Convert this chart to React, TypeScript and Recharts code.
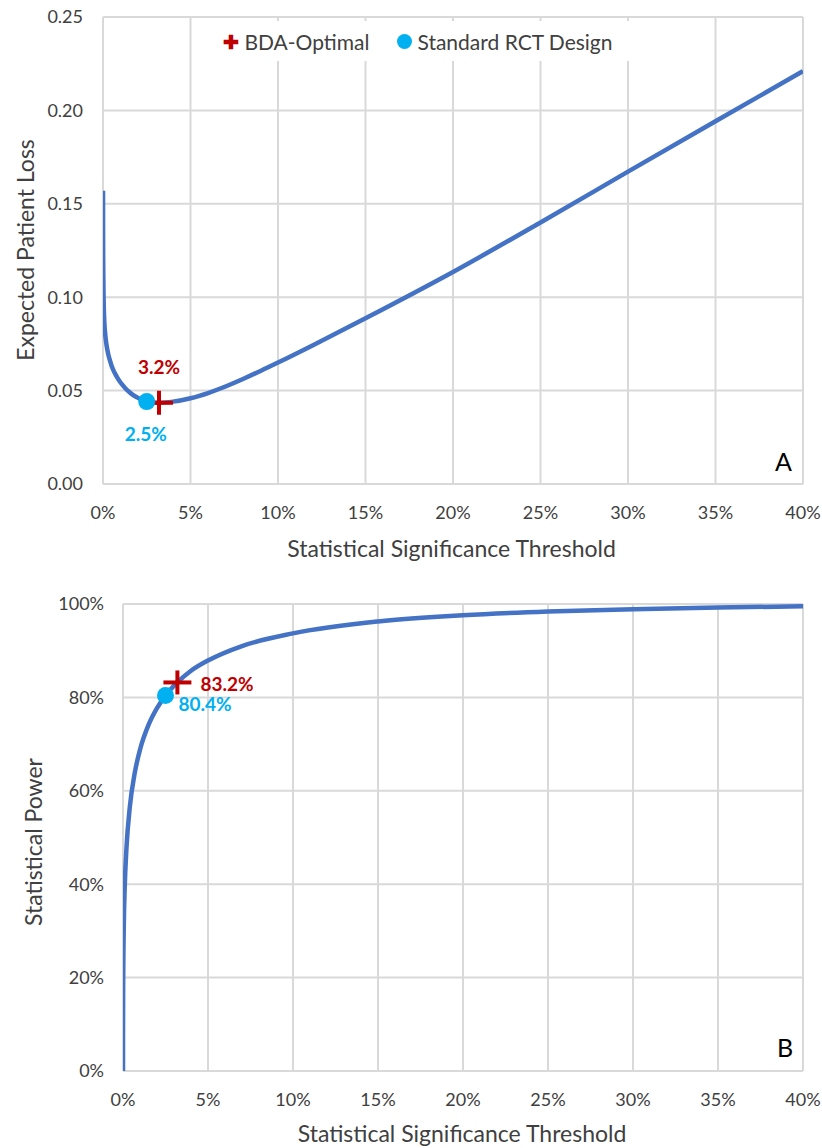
import React from "react";
import { ComposedChart, Line, Scatter, XAxis, YAxis, CartesianGrid } from "recharts";

const xTicks = [0, 0.05, 0.1, 0.15, 0.2, 0.25, 0.3, 0.35, 0.4];
const lossTicks = [0, 0.05, 0.1, 0.15, 0.2, 0.25];
const powerTicks = [0, 0.2, 0.4, 0.6, 0.8, 1.0];

const lossAlpha = [0.00002, 0.00005, 0.0001, 0.0002, 0.0003, 0.0005, 0.0008, 0.0011, 0.0015, 0.002, 0.003, 0.004, 0.005, 0.0065, 0.008, 0.0095, 0.011, 0.013, 0.015, 0.0175, 0.02, 0.0225, 0.025, 0.0285, 0.032, 0.036, 0.04, 0.05, 0.06, 0.07, 0.08, 0.09, 0.1, 0.12, 0.15, 0.2, 0.25, 0.3, 0.35, 0.4];
const lossValues = [0.157, 0.135, 0.122, 0.11, 0.102, 0.093, 0.086, 0.082, 0.078, 0.0745, 0.0695, 0.066, 0.063, 0.0598, 0.0572, 0.055, 0.0532, 0.051, 0.0493, 0.0475, 0.0461, 0.0449, 0.0441, 0.0436, 0.0435, 0.0437, 0.0441, 0.0459, 0.0487, 0.0522, 0.0562, 0.0605, 0.065, 0.0743, 0.0887, 0.1135, 0.14, 0.1672, 0.1942, 0.221];

const powerAlpha = [0, 0.00001, 0.0001, 0.0005, 0.001, 0.002, 0.004, 0.007, 0.01, 0.015, 0.02, 0.025, 0.032, 0.04, 0.05, 0.07, 0.1, 0.15, 0.2, 0.25, 0.3, 0.35, 0.4];
const powerValues = [0, 0.074, 0.183, 0.318, 0.392, 0.475, 0.565, 0.64, 0.688, 0.741, 0.777, 0.804, 0.832, 0.857, 0.879, 0.91, 0.937, 0.9625, 0.976, 0.984, 0.989, 0.9925, 0.995];

const bdaAlpha = 0.032;
const rctAlpha = 0.025;
const bdaLoss = 0.0435;
const rctLoss = 0.0441;
const bdaPower = 0.832;
const rctPower = 0.804;
const bdaLossLabel = "3.2%";
const rctLossLabel = "2.5%";
const bdaPowerLabel = "83.2%";
const rctPowerLabel = "80.4%";

const lossData = lossAlpha.map((x, i) => ({ x, y: lossValues[i] }));
const powerData = powerAlpha.map((x, i) => ({ x, y: powerValues[i] }));

const FONT = "Lato, 'Open Sans', sans-serif";
const RED = "#C00000";
const CYAN = "#00B0F0";
const BLUE = "#4472C4";
const GRID = "#D9D9D9";
const TEXT = "#404040";

const pct = (v: number) => `${Math.round(v * 100)}%`;

const makeCross = (label: string, mode: "top" | "bottom") => (props: any) => {
  const { cx, cy } = props;
  if (cx == null || cy == null) return <g />;
  return (
    <g>
      <line x1={cx} y1={cy - 12} x2={cx} y2={cy + 12} stroke={RED} strokeWidth={4} />
      <line x1={cx - 14} y1={cy} x2={cx + 14} y2={cy} stroke={RED} strokeWidth={4} />
      {mode === "top" ? (
        <text x={cx} y={cy - 36} textAnchor="middle" dominantBaseline="central" fill={RED} fontWeight={700} fontSize={19} fontFamily={FONT}>{label}</text>
      ) : (
        <text x={cx + 23} y={cy + 1} textAnchor="start" dominantBaseline="central" fill={RED} fontWeight={700} fontSize={19} fontFamily={FONT}>{label}</text>
      )}
    </g>
  );
};

const makeDot = (label: string, mode: "top" | "bottom") => (props: any) => {
  const { cx, cy } = props;
  if (cx == null || cy == null) return <g />;
  return (
    <g>
      <circle cx={cx} cy={cy} r={8.5} fill={CYAN} />
      {mode === "top" ? (
        <text x={cx - 1} y={cy + 32} textAnchor="middle" dominantBaseline="central" fill={CYAN} fontWeight={700} fontSize={19} fontFamily={FONT}>{label}</text>
      ) : (
        <text x={cx + 13} y={cy + 8} textAnchor="start" dominantBaseline="central" fill={CYAN} fontWeight={700} fontSize={19} fontFamily={FONT}>{label}</text>
      )}
    </g>
  );
};

const tickStyle = { fill: TEXT, fontSize: 18, fontFamily: FONT };

export default function App() {
  return (
    <div style={{ position: "absolute", left: 0, top: 0, width: 822, height: 1148, background: "#fff", fontFamily: FONT }}>
      {/* Chart A */}
      <div style={{ position: "absolute", left: 0, top: 0 }}>
        <ComposedChart width={822} height={570} margin={{ top: 17, right: 19, left: 0, bottom: 56 }}>
          <CartesianGrid stroke={GRID} strokeWidth={2} />
          <XAxis type="number" dataKey="x" domain={[0, 0.4]} ticks={xTicks} tickFormatter={pct} axisLine={false} tickLine={false} tickMargin={16} height={30} tick={tickStyle} allowDataOverflow />
          <YAxis type="number" dataKey="y" domain={[0, 0.25]} ticks={lossTicks} tickFormatter={(v: number) => v.toFixed(2)} axisLine={false} tickLine={false} tickMargin={14} width={103} tick={tickStyle} allowDataOverflow />
          <Line data={lossData} dataKey="y" type="monotone" stroke={BLUE} strokeWidth={4.5} dot={false} isAnimationActive={false} />
          <Scatter data={[{ x: bdaAlpha, y: bdaLoss }]} dataKey="y" shape={makeCross(bdaLossLabel, "top")} isAnimationActive={false} />
          <Scatter data={[{ x: rctAlpha, y: rctLoss }]} dataKey="y" shape={makeDot(rctLossLabel, "top")} isAnimationActive={false} />
        </ComposedChart>
        {/* legend */}
        <div style={{ position: "absolute", left: 200, top: 21, width: 436, height: 40, background: "#fff", display: "flex", alignItems: "center", justifyContent: "center", fontSize: 21, color: TEXT, whiteSpace: "nowrap" }}>
          <span style={{ color: RED, fontWeight: 900, fontSize: 19, marginRight: 5, lineHeight: 1 }}>✚</span>
          <span>BDA-Optimal</span>
          <span style={{ display: "inline-block", width: 15, height: 15, borderRadius: 8, background: CYAN, marginLeft: 28, marginRight: 5 }} />
          <span>Standard RCT Design</span>
        </div>
        <div style={{ position: "absolute", left: 775, top: 446, fontSize: 25, color: "#000" }}>A</div>
        <div style={{ position: "absolute", left: 0, top: 534, width: 903, textAlign: "center", fontSize: 23, color: TEXT }}>Statistical Significance Threshold</div>
        <div style={{ position: "absolute", left: 25, top: 250, transform: "translate(-50%, -50%) rotate(-90deg)", fontSize: 23, color: TEXT, whiteSpace: "nowrap" }}>Expected Patient Loss</div>
      </div>

      {/* Chart B */}
      <div style={{ position: "absolute", left: 0, top: 570 }}>
        <ComposedChart width={822} height={578} margin={{ top: 34, right: 19, left: 0, bottom: 47 }}>
          <CartesianGrid stroke={GRID} strokeWidth={2} />
          <XAxis type="number" dataKey="x" domain={[0, 0.4]} ticks={xTicks} tickFormatter={pct} axisLine={false} tickLine={false} tickMargin={16} height={30} tick={tickStyle} allowDataOverflow />
          <YAxis type="number" dataKey="y" domain={[0, 1]} ticks={powerTicks} tickFormatter={pct} axisLine={false} tickLine={false} tickMargin={13} width={123} tick={tickStyle} allowDataOverflow />
          <Line data={powerData} dataKey="y" type="monotone" stroke={BLUE} strokeWidth={4.5} dot={false} isAnimationActive={false} />
          <Scatter data={[{ x: rctAlpha, y: rctPower }]} dataKey="y" shape={makeDot(rctPowerLabel, "bottom")} isAnimationActive={false} />
          <Scatter data={[{ x: bdaAlpha, y: bdaPower }]} dataKey="y" shape={makeCross(bdaPowerLabel, "bottom")} isAnimationActive={false} />
        </ComposedChart>
        <div style={{ position: "absolute", left: 777, top: 462, fontSize: 25, color: "#000" }}>B</div>
        <div style={{ position: "absolute", left: 0, top: 549, width: 924, textAlign: "center", fontSize: 23, color: TEXT }}>Statistical Significance Threshold</div>
        <div style={{ position: "absolute", left: 33, top: 272, transform: "translate(-50%, -50%) rotate(-90deg)", fontSize: 23, color: TEXT, whiteSpace: "nowrap" }}>Statistical Power</div>
      </div>
    </div>
  );
}
